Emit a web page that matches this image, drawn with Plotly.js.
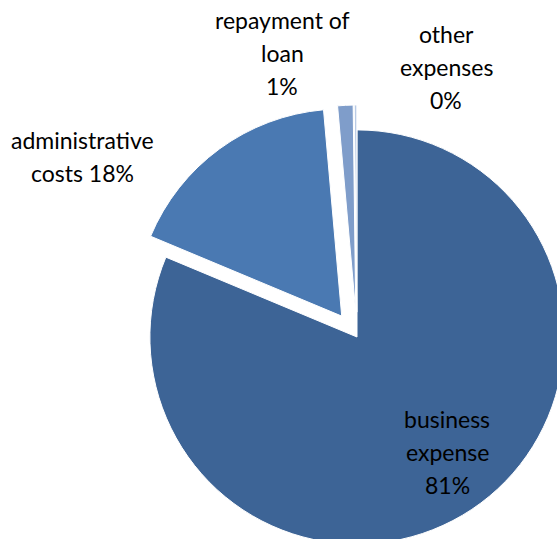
<!DOCTYPE html>
<html>
<head>
<meta charset="utf-8">
<script src="https://cdn.plot.ly/plotly-3.0.1.min.js"></script>
<style>
html, body { margin: 0; padding: 0; overflow: hidden; background: #fff; width: 557px; height: 539px; }
#chart { width: 600px; height: 580px; }
</style>
</head>
<body>
<div id="chart"></div>
<script>
// Data
var categories = ["business expense", "administrative costs", "repayment of loan", "other expenses"];
var values = [81.3, 17.3, 1.2, 0.2];
var colors = ["#3D6496", "#4A79B2", "#7F9DCA", "#B9CBE5"];
var pulls = [0, 0.125, 0.12, 0.12];

// Label lines (text as shown in chart) and their anchor points (px in page)
var labelLines = [
  ["business", "expense", "81%"],
  ["administrative", "costs 18%"],
  ["repayment of", "loan", "1%"],
  ["other", "expenses", "0%"]
];
var labelX = [447, 82, 282, 446];
var labelY0 = [419, 140, 20, 34];
var lineStep = 33;

var W = 600, H = 580;
var annotations = [];
labelLines.forEach(function (lines, i) {
  lines.forEach(function (t, j) {
    annotations.push({
      text: t, showarrow: false, xref: "paper", yref: "paper",
      x: labelX[i] / W, y: 1 - (labelY0[i] + j * lineStep) / H,
      xanchor: "center", yanchor: "middle",
      font: { family: "Lato, 'Open Sans', sans-serif", size: 23, color: "#000" }
    });
  });
});

var trace = {
  type: "pie",
  labels: categories,
  values: values,
  sort: false,
  direction: "clockwise",
  rotation: 0,
  pull: pulls,
  textinfo: "none",
  hoverinfo: "label+percent",
  marker: { colors: colors, line: { color: "#ffffff", width: 1 } },
  domain: { x: [124 / W, 590 / W], y: [1 - 570 / H, 1 - 104 / H] },
  showlegend: false
};

Plotly.newPlot("chart", [trace], {
  width: W, height: H,
  margin: { l: 0, r: 0, t: 0, b: 0 },
  paper_bgcolor: "#fff",
  showlegend: false,
  annotations: annotations
}, { staticPlot: true });
</script>
</body>
</html>
